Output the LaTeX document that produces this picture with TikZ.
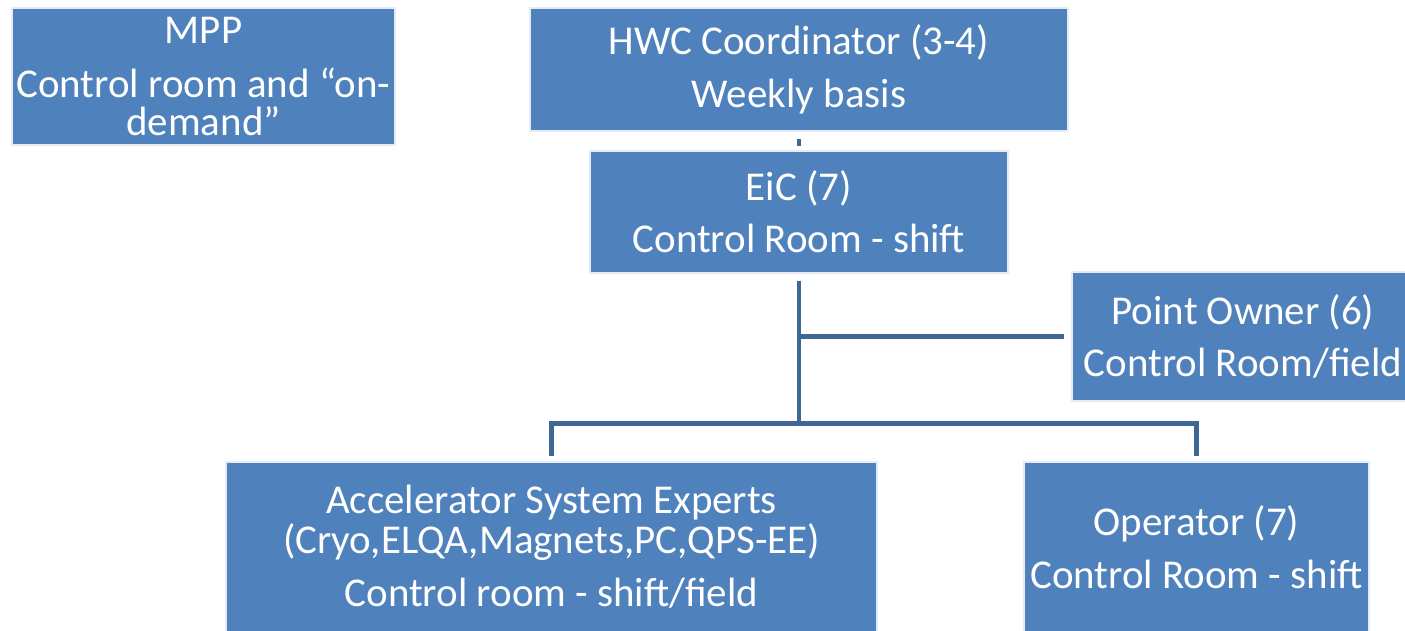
\documentclass[tikz,border=0pt]{standalone}
\usepackage{fontspec}
\setmainfont{Carlito}
\usetikzlibrary{positioning}
\definecolor{boxblue}{RGB}{79,129,189}
\definecolor{lineblue}{RGB}{63,103,150}

\begin{document}
\begin{tikzpicture}[
  font={\fontsize{23.3}{20}\selectfont\lineskiplimit=-30pt},
  box/.style={draw=white!85!boxblue, line width=0.6pt, fill=boxblue, text=white, align=center, inner sep=0pt},
  conn/.style={draw=lineblue, line width=2.8pt},
]
\useasboundingbox (0,0) rectangle (28.1,-12.6);

% ===== Top row =====
\node[box, minimum width=7.66cm, minimum height=2.74cm] (mpp) at (4.07,-1.53)
  {MPP\\[10.7pt]Control room and “on-\\[1.6pt]demand”};
\node[box, minimum width=10.76cm, minimum height=2.46cm] (hwc) at (15.98,-1.39)
  {HWC Coordinator (3-4)\\[10.2pt]Weekly basis};
\node[box, minimum width=8.36cm, minimum height=2.44cm] (eic) at (15.98,-4.24)
  {EiC (7)\\[9.6pt]Control Room - shift};

% ===== Side branch =====
\node[box, minimum width=6.84cm, minimum height=2.58cm] (po) at (24.86,-6.73)
  {Point Owner (6)\\[9.6pt]Control Room/field};

% ===== Bottom row =====
\node[box, minimum width=13.02cm, minimum height=3.40cm] (ase) at (11.03,-10.94)
  {Accelerator System Experts\\[2.8pt](Cryo,ELQA,Magnets,PC,QPS-EE)\\[10.2pt]Control room - shift/field};
\node[box, minimum width=6.90cm, minimum height=3.40cm] (op) at (23.93,-10.94)
  {Operator (7)\\[10.2pt]Control Room - shift};

% ===== Connectors =====
\coordinate[below=3cm of eic.south] (bus);
\draw[conn, shorten <=0.15cm, shorten >=0.09cm] (hwc) -- (eic);
\draw[conn, shorten <=0.14cm] (eic.south) -- (bus);
\draw[conn, shorten >=0.1cm] (bus) -| (ase.north);
\draw[conn, shorten >=0.1cm] (bus) -| (op.north);
\draw[conn, shorten >=0.14cm] (eic.south |- po.west) -- (po.west);

\end{tikzpicture}
\end{document}
